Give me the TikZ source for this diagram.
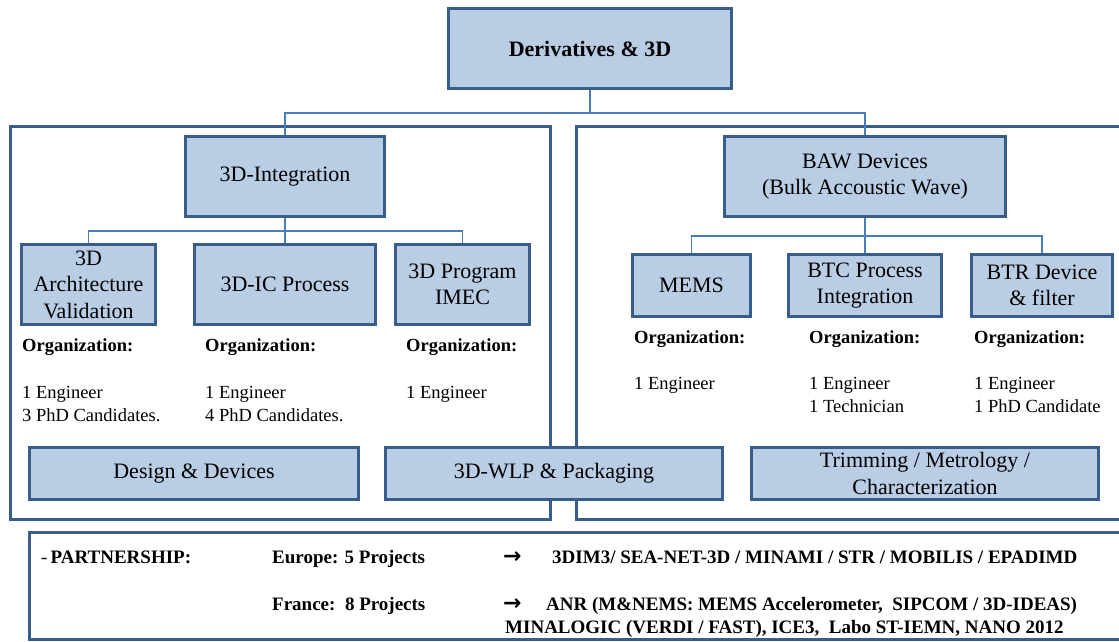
\documentclass[tikz,border=0pt]{standalone}
\usepackage{fontspec}
\setmainfont{Liberation Serif}
\newfontfamily\arrowfont{DejaVu Sans}
\usepackage{tikz}
\usetikzlibrary{positioning}
\definecolor{boxfill}{HTML}{B9CDE5}
\definecolor{boxline}{HTML}{385D8A}
\definecolor{connline}{HTML}{4A7EBB}
\tikzstyle{box} = [rectangle, 
draw=boxline, 
fill=boxfill, 
line width=3pt, 
inner sep=1pt, 
align=center, 
text centered, 
font=\rmfamily\fontsize{22}{26.5}\selectfont]
\tikzstyle{topbox} = [box, 
minimum width=283pt, 
minimum height=80pt, 
font=\rmfamily\fontsize{22}{26.5}\selectfont\bfseries]
\tikzstyle{midbox} = [box, minimum height=80pt]
\tikzstyle{subbox} = [box, minimum height=62pt]
\tikzstyle{bar} = [box, minimum height=52pt]
\tikzstyle{frame} = [draw=boxline, line width=3pt]
\tikzstyle{conn} = [draw=connline, line width=1.3pt]
\tikzstyle{orgtext} = [anchor=base west, 
inner sep=0pt, 
align=left, 
font=\rmfamily\fontsize{18.5}{23}\selectfont]
\tikzstyle{partner} = [anchor=base west, 
inner sep=0pt, 
align=left, 
font=\rmfamily\fontsize{19}{23}\selectfont\bfseries]

\begin{document}
\begin{tikzpicture}[x=1pt, y=-1pt]
\useasboundingbox (0,0) rectangle (1119,642);

% outer frames
\draw [frame] (10,126) rectangle (550,519);
\draw [frame] (576,126) rectangle (1130,519);
\draw [frame] (29,532) rectangle (1130,639.5);

% main boxes
\node (deriv) [topbox] at (590,48.5) {Derivatives \& 3D};
\node (integ) [midbox, minimum width=199pt] at (285,176.5) {3D-Integration};
\node (baw) [midbox, minimum width=281pt] at (865,176.5) {BAW Devices\\(Bulk Accoustic Wave)};

\node (arch) [midbox, minimum width=134pt] at (88.5,284.5) {3D\\Architecture\\Validation};
\node (icproc) [midbox, minimum width=181pt] at (285,284.5) {3D-IC Process};
\node (imec) [midbox, minimum width=134pt] at (462.5,284.5) {3D Program\\IMEC};

\node (mems) [subbox, minimum width=118pt] at (691.5,285.5) {MEMS};
\node (btc) [subbox, minimum width=153pt] at (865,285.5) {BTC Process\\Integration};
\node (btr) [subbox, minimum width=141pt] at (1042,285.5) {BTR Device\\\& filter};

\node (design) [bar, minimum width=329pt] at (194,473.5) {Design \& Devices};
\node (wlp) [bar, minimum width=337pt] at (554,473.5) {3D-WLP \& Packaging};
\node (trim) [bar, minimum width=347pt] at (925,473.5) {Trimming / Metrology /\\Characterization};

% connectors
\coordinate (bus1) at (590,113);
\coordinate (bus2) at (285,231);
\coordinate (bus3) at (865,236);
\draw [conn] (deriv.south) -- (bus1);
\draw [conn] (integ.north) |- (bus1) -| (baw.north);
\draw [conn] (integ.south) -- (icproc.north);
\draw [conn] (arch.north) |- (bus2) -| (imec.north);
\draw [conn] (baw.south) -- (btc.north);
\draw [conn] (mems.north) |- (bus3) -| (btr.north);

% organization texts (base = last line)
\node (orgA) [orgtext] at (22,351) {\textbf{Organization:}};
\node (orgB) [orgtext] at (205,351) {\textbf{Organization:}};
\node (orgC) [orgtext] at (406,351) {\textbf{Organization:}};
\node (staffA) [orgtext] at (22,421) {1 Engineer\\3 PhD Candidates.};
\node (staffB) [orgtext] at (205,421) {1 Engineer\\4 PhD Candidates.};
\node (staffC) [orgtext] at (406,398) {1 Engineer};

\node (orgD) [orgtext] at (634,343) {\textbf{Organization:}};
\node (orgE) [orgtext] at (809,343) {\textbf{Organization:}};
\node (orgF) [orgtext] at (974,343) {\textbf{Organization:}};
\node (staffD) [orgtext] at (634,389) {1 Engineer};
\node (staffE) [orgtext] at (809,412) {1 Engineer\\1 Technician};
\node (staffF) [orgtext] at (974,412) {1 Engineer\\1 PhD Candidate};

% partnership
\node (partner) [partner] at (41,563) {\mdseries-\,\bfseries PARTNERSHIP:};
\node (europe) [partner] at (272,563) {Europe: 5 Projects};
\node (arrowA) [partner] at (503,563) {\arrowfont\bfseries\fontsize{22}{23}\selectfont →};
\node (euprj) [partner] at (552,563) {3DIM3/ SEA-NET-3D / MINAMI / STR / MOBILIS / EPADIMD};
\node (france) [partner] at (272,610) {France:\ \ 8 Projects};
\node (arrowB) [partner] at (503,610) {\arrowfont\bfseries\fontsize{22}{23}\selectfont →};
\node (frprj) [partner] at (546,610) {ANR (M\&NEMS: MEMS Accelerometer,\ \ SIPCOM / 3D-IDEAS)};
\node (frprj2) [partner] at (505,633) {MINALOGIC (VERDI / FAST), ICE3,\ \ Labo ST-IEMN, NANO 2012};

\end{tikzpicture}
\end{document}
